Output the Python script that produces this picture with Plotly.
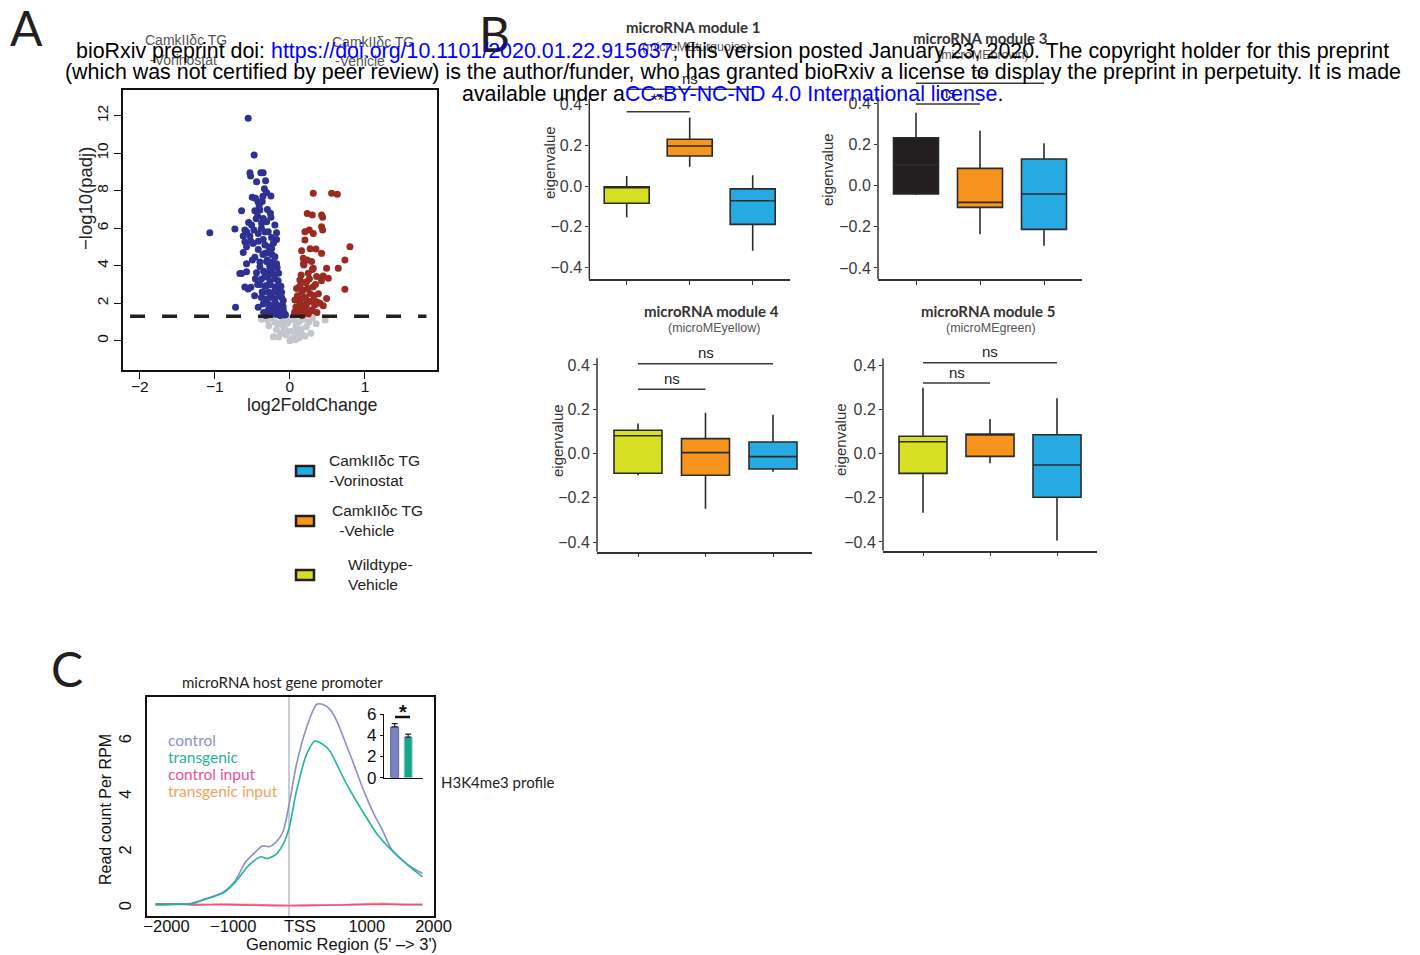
import plotly.graph_objects as go

W, H = 1420, 955
def px(x): return x / W
def py(y): return 1 - y / H

SANS = "Liberation Sans, Arial, sans-serif"
MYR = "Lato, Open Sans, sans-serif"

# ---------------- DATA ----------------
# Panel A volcano: (log2FoldChange, -log10(padj))
down_pts = [(-0.556,11.86),(-0.476,9.9),(-0.533,8.96),(-0.387,8.96),(-0.356,8.96),(-0.444,8.48),(-0.324,8.53),
            (-0.524,8.78),(-0.311,7.9),(-0.253,7.72),(-0.502,7.65),(-0.458,7.6),(-0.427,7.42),(-0.369,7.42),
            (-0.644,6.93),(-0.467,6.93),(-0.4,6.97),(-0.431,6.65),(-0.356,6.52),(-0.253,6.58),(-0.311,6.34),
            (-0.378,6.26),(-0.511,6.17),(-0.2,6.17),(-0.733,5.96),(-1.067,5.76),(-0.578,5.81),(-0.622,5.58),
            (-0.533,5.58),(-0.422,5.72),(-0.289,5.81),(-0.178,5.76),(-0.244,5.51),(-0.356,5.4),(-0.6,5.28),
            (-0.489,5.19),(-0.178,5.4),(-0.333,5.1),(-0.578,5.01),(-0.422,4.87),(-0.244,4.92),(-0.622,4.7),
            (-0.333,4.66),(-0.467,4.45),(-0.2,4.48),(-0.311,4.22),(-0.578,4.1),(-0.178,4.1),(-0.4,3.95),
            (-0.267,3.8),(-0.644,3.59),(-0.667,3.59),(-0.578,3.68),(-0.444,3.63),(-0.333,3.59),(-0.222,3.56),
            (-0.378,3.29),(-0.267,3.2),(-0.156,3.2),(-0.556,2.76),(-0.6,2.86),(-0.52,2.85),(-0.311,2.94),
            (-0.2,2.85),(-0.356,2.58),(-0.267,2.53),(-0.156,2.67),(-0.111,2.58),(-0.311,2.22),(-0.2,2.22),
            (-0.089,2.14),(-0.356,1.96),(-0.244,1.87),(-0.133,1.87),(-0.724,1.78),(-0.422,1.78),(-0.289,1.64),
            (-0.178,1.55),(-0.089,1.64),(-0.244,1.46),(-0.133,1.37),(-0.067,1.37),
            (-0.30,4.3),(-0.27,4.0),(-0.22,3.9),(-0.35,3.7),(-0.3,3.4),(-0.26,3.0),(-0.2,3.3),(-0.17,2.9),
            (-0.14,2.4),(-0.33,2.9),(-0.28,2.6),(-0.24,2.3),(-0.19,2.0),(-0.16,1.7),(-0.12,1.6),(-0.1,1.9),
            (-0.08,1.5),(-0.3,2.0),(-0.27,1.7),(-0.22,1.5),(-0.18,1.4),(-0.14,1.45),(-0.35,1.5),(-0.38,2.3),
            (-0.4,3.0),(-0.36,4.6),(-0.42,5.3),(-0.33,5.8),(-0.28,5.0),(-0.24,4.6),(-0.38,6.0),(-0.45,6.5),
            (-0.3,7.0),(-0.36,7.7),(-0.22,5.2),(-0.26,6.8),(-0.4,4.2),(-0.46,3.3),(-0.5,4.3),(-0.52,5.3),
            (-0.48,5.9),(-0.55,6.3),(-0.6,5.9),(-0.41,7.2),(-0.34,8.1),(-0.25,3.6),(-0.2,2.6),(-0.11,2.3),
            (-0.15,3.6),(-0.13,1.35),(-0.21,1.8),(-0.32,1.35),(-0.25,1.9),(-0.06,1.4),
            (-0.43,3.0),(-0.47,2.4),(-0.29,4.7),(-0.23,4.2),(-0.17,3.9),(-0.12,2.9),(-0.09,1.8),(-0.37,2.6)]
up_pts = [(0.311,7.86),(0.556,7.86),(0.631,7.81),(0.231,6.79),(0.298,6.7),(0.422,6.7),(0.436,6.58),(0.2,5.81),
          (0.258,5.9),(0.311,5.72),(0.422,6.08),(0.436,5.9),(0.2,5.37),(0.8,5.01),(0.156,4.8),(0.347,4.89),
          (0.422,4.66),(0.178,4.4),(0.289,4.22),(0.733,4.31),(0.187,4.04),(0.311,3.86),(0.489,3.86),(0.644,3.86),
          (0.244,3.6),(0.356,3.42),(0.444,3.45),(0.511,3.33),(0.133,3.24),(0.222,3.15),(0.311,2.88),(0.733,2.74),
          (0.089,2.79),(0.178,2.7),(0.267,2.52),(0.133,2.25),(0.489,2.25),(0.067,2.17),(0.222,2.17),(0.356,2.08),
          (0.111,1.82),(0.2,1.73),(0.444,1.86),(0.289,1.64),(0.067,1.55),(0.156,1.46),(0.244,1.42),
          (0.1,1.4),(0.12,1.7),(0.14,2.0),(0.18,1.5),(0.2,2.3),(0.22,1.9),(0.24,2.8),(0.16,2.6),(0.28,2.1),
          (0.3,1.6),(0.32,2.4),(0.26,3.3),(0.2,3.1),(0.15,3.5),(0.3,3.8),(0.23,4.3),(0.34,3.0),(0.38,2.5),
          (0.08,1.8),(0.13,2.9),(0.18,4.1),(0.27,4.9),(0.36,1.5),(0.42,3.2),(0.4,2.0),(0.06,1.45),(0.1,2.4),
          (0.16,1.35),(0.25,1.5),(0.33,1.9)]
ns_pts = [(-0.38,1.14),(-0.3,1.1),(-0.25,1.2),(-0.2,1.0),(-0.22,0.21),(-0.18,0.6),(-0.15,0.9),(-0.12,0.4),
          (-0.1,1.1),(-0.08,0.7),(-0.05,0.3),(-0.03,0.95),(0.0,0.0),(0.02,0.5),(0.04,0.15),(0.05,1.1),
          (0.08,0.8),(0.1,0.35),(0.12,1.0),(0.15,0.6),(0.18,1.15),(0.2,0.25),(0.22,0.75),(0.25,1.0),
          (0.28,0.4),(0.3,1.2),(0.35,0.9),(0.47,1.1),(-0.28,0.8),(-0.05,0.55),(0.07,0.05),(-0.15,0.2),
          (0.16,0.3),(0.12,0.15),(-0.1,0.85),(0.0,1.2),(0.1,0.6)]
padj_threshold = 1.3

# Panel B module eigengene boxes: groups = WT-Vehicle, TG-Vehicle, TG-Vorinostat
groups = ["Wildtype-Vehicle", "CamkIIδc TG-Vehicle", "CamkIIδc TG-Vorinostat"]
m1 = dict(q1=[-0.085, 0.148, -0.189], med=[-0.008, 0.197, -0.073], q3=[-0.004, 0.230, -0.014],
          lo=[-0.154, 0.095, -0.319], hi=[0.049, 0.338, 0.053])
m3 = dict(q1=[-0.041, -0.106, -0.213], med=[0.10, -0.082, -0.041], q3=[0.232, 0.083, 0.129],
          lo=[-0.046, -0.237, -0.292], hi=[0.353, 0.266, 0.205])
m4 = dict(q1=[-0.089, -0.098, -0.070], med=[0.080, 0.004, -0.014], q3=[0.105, 0.067, 0.052],
          lo=[-0.098, -0.249, -0.082], hi=[0.136, 0.184, 0.175])
m5 = dict(q1=[-0.090, -0.013, -0.198], med=[0.053, 0.085, -0.052], q3=[0.078, 0.088, 0.085],
          lo=[-0.268, -0.044, -0.394], hi=[0.298, 0.156, 0.250])
module_titles = ["microRNA module 1", "microRNA module 3", "microRNA module 4", "microRNA module 5"]
module_sub = ["(microMEturquoise)", "(microMEbrown)", "(microMEyellow)", "(microMEgreen)"]
# significance: (from group, to group, bar height, label)
m1_sig = [(0, 2, 0.476, "ns"), (0, 1, 0.366, "**")]
m3_sig = [(0, 2, 0.496, "ns"), (0, 1, 0.396, "ns")]
m4_sig = [(0, 2, 0.405, "ns"), (0, 1, 0.290, "ns")]
m5_sig = [(0, 2, 0.411, "ns"), (0, 1, 0.319, "ns")]

# Panel C H3K4me3 profile
ctrl_x = [-2000,-1700,-1460,-1310,-980,-800,-650,-500,-400,-300,-200,-90,0,110,260,415,520,620,720,820,975,1125,1280,1400,1530,1790,2000]
ctrl_y = [0.12,0.14,0.17,0.28,0.58,1.0,1.66,2.02,2.23,2.2,2.35,2.74,3.7,5.14,6.46,7.32,7.30,7.12,6.7,6.1,5.14,4.18,3.34,2.8,2.14,1.54,1.24]
tg_x = [-2000,-1700,-1460,-1310,-980,-800,-600,-425,-325,-200,-95,0,110,260,390,520,620,720,870,1075,1330,1585,1840,2000]
tg_y = [0.12,0.13,0.15,0.27,0.55,0.94,1.54,1.84,1.78,1.92,2.26,2.86,4.18,5.5,6.0,5.86,5.62,5.14,4.42,3.58,2.62,1.96,1.42,1.12]
inp_x = [-2000,-1700,-1400,-1000,-500,0,500,1000,1400,1700,2000]
cinp_y = [0.15,0.15,0.11,0.12,0.10,0.08,0.10,0.12,0.13,0.12,0.12]
tinp_y = [0.13,0.14,0.13,0.14,0.12,0.10,0.11,0.13,0.17,0.13,0.13]
inset_groups = ["control", "transgenic"]
inset_vals = [4.78, 3.83]
inset_err = [0.31, 0.28]

# ---------------- STYLE ----------------
C_YEL, C_ORA, C_BLU, C_BLK = "#d6df23", "#f7941d", "#27a9e1", "#231f20"
box_colors = [[C_YEL, C_ORA, C_BLU], [C_BLK, C_ORA, C_BLU], [C_YEL, C_ORA, C_BLU], [C_YEL, C_ORA, C_BLU]]

fig = go.Figure()
shapes, anns = [], []

def ann(text, x, y, size=14, color="#222", family=SANS, xanchor="center", yanchor="middle", angle=0):
    anns.append(dict(text=text, x=px(x), y=py(y), xref="paper", yref="paper", showarrow=False,
                     font=dict(size=size, color=color, family=family), xanchor=xanchor, yanchor=yanchor,
                     textangle=angle))

# ---------------- Panel A ----------------
for pts, col in [(ns_pts, "#c3c7cc"), (down_pts, "#2e3192"), (up_pts, "#9b2a22")]:
    fig.add_trace(go.Scatter(x=[p[0] for p in pts], y=[p[1] for p in pts], mode="markers",
                             marker=dict(size=7, color=col), xaxis="x", yaxis="y",
                             showlegend=False, hoverinfo="x+y"))
shapes.append(dict(type="line", xref="x", yref="y", x0=-2.13, x1=1.82, y0=padj_threshold, y1=padj_threshold,
                   line=dict(color="#231f20", width=3.5, dash="15px,17px"), layer="above"))

# legend of panel A
leg = [(471, C_BLU, ["CamkIIδc TG", "-Vorinostat"], 327),
       (521, C_ORA, ["CamkIIδc TG", " -Vehicle"], 330),
       (575, C_YEL, ["Wildtype-", "Vehicle"], 346)]
for yc, col, lines, tx in leg:
    shapes.append(dict(type="rect", xref="paper", yref="paper", x0=px(296), x1=px(314), y0=py(yc+5), y1=py(yc-5),
                       fillcolor=col, line=dict(color="#231f20", width=2.5)))
    ann(lines[0], tx, yc - 11, size=15.5, xanchor="left")
    ann(lines[1], tx + (3 if lines[1].startswith(" ") else 0), yc + 9, size=15.5, xanchor="left")

ann("A", 26, 27, size=48, color="#231f20", family=MYR)
ann("CamkIIδc TG", 186, 40, size=14, color="#555")
ann("-Vorinostat", 183, 60, size=14, color="#555")
ann("CamkIIδc TG", 373, 42, size=14, color="#555")
ann("-Vehicle", 360, 61, size=14, color="#555")
ann("−log10(padj)", 85, 199, size=18.5, angle=-90)
ann("log2FoldChange", 312, 405, size=17.8)

# ---------------- Panel B ----------------
B_lay = [dict(xl=589.3, xr=790, c0=626.7, dx=63, yb=279.3, yt=60, y0=186, dy=203, bw=45, yl=550, ylc=163,
              tx=693, ty=27, sy=47),
         dict(xl=878, xr=1082, c0=916, dx=64, yb=279.3, yt=60, y0=185.5, dy=206, bw=45, yl=828, ylc=170,
              tx=980, ty=38, sy=55),
         dict(xl=597, xr=812, c0=638, dx=67.5, yb=551.7, yt=340, y0=453.5, dy=221.5, bw=48, yl=557, ylc=441,
              tx=711, ty=311, sy=328),
         dict(xl=883, xr=1097, c0=923, dx=67, yb=550.7, yt=340, y0=453.5, dy=221, bw=48, yl=840, ylc=440,
              tx=988, ty=311, sy=328)]
mods = [m1, m3, m4, m5]
sigs = [m1_sig, m3_sig, m4_sig, m5_sig]
layout_axes = {}
for k, (L, m, sg) in enumerate(zip(B_lay, mods, sigs)):
    ax = k + 2
    xr = [(L["xl"] - L["c0"]) / L["dx"], (L["xr"] - L["c0"]) / L["dx"]]
    yr = [(L["y0"] - L["yb"]) / L["dy"], (L["y0"] - L["yt"]) / L["dy"]]
    for i in range(3):
        fig.add_trace(go.Box(x=[i], q1=[m["q1"][i]], median=[m["med"][i]], q3=[m["q3"][i]],
                             lowerfence=[m["lo"][i]], upperfence=[m["hi"][i]],
                             fillcolor=box_colors[k][i], line=dict(color="#2b2b2b", width=1.6),
                             width=L["bw"] / L["dx"], whiskerwidth=0, boxpoints=False,
                             xaxis=f"x{ax}", yaxis=f"y{ax}", showlegend=False, name=groups[i]))
    layout_axes[f"xaxis{ax}"] = dict(domain=[px(L["xl"]), px(L["xr"])], range=xr, anchor=f"y{ax}",
                                     tickvals=[0, 1, 2], ticktext=["", "", ""], ticks="outside", ticklen=4,
                                     tickcolor="#333", showline=True, linecolor="#333", linewidth=1.5,
                                     showgrid=False, zeroline=False, fixedrange=True, automargin=False)
    layout_axes[f"yaxis{ax}"] = dict(domain=[py(L["yb"]), py(L["yt"])], range=yr, anchor=f"x{ax}",
                                     tickvals=[-0.4, -0.2, 0, 0.2, 0.4],
                                     ticktext=["−0.4", "−0.2", "0.0", "0.2", "0.4"],
                                     ticks="outside", ticklen=3, tickcolor="#333",
                                     tickfont=dict(size=16, color="#3a3a3a", family=SANS),
                                     showline=False, showgrid=False, zeroline=False, automargin=False)
    shapes.append(dict(type="line", xref="paper", yref=f"y{ax}", x0=px(L["xl"]), x1=px(L["xl"]),
                       y0=yr[0], y1=0.43, line=dict(color="#333", width=1.5)))
    for (g0, g1, hgt, lab) in sg:
        shapes.append(dict(type="line", xref=f"x{ax}", yref=f"y{ax}", x0=g0, x1=g1, y0=hgt, y1=hgt,
                           line=dict(color="#3a3a3a", width=1.5)))
        xc = L["c0"] + (g0 + g1) / 2 * L["dx"]
        yc = L["y0"] - hgt * L["dy"]
        ann(lab, xc, yc - 11, size=15 if lab == "ns" else 17, color="#222")
    ann("eigenvalue", L["yl"], L["ylc"], size=15, color="#333", angle=-90)
    ann("<b>" + module_titles[k] + "</b>", L["tx"], L["ty"], size=15, color="#333", family=MYR)
    ann(module_sub[k], L["tx"] + 3, L["sy"], size=12.5, color="#555")

ann("B", 494, 33, size=48, color="#231f20", family=MYR)

# ---------------- Panel C ----------------
for xs, ys, col in [(inp_x, tinp_y, "#f2a15c"), (inp_x, cinp_y, "#ec4f98"),
                    (ctrl_x, ctrl_y, "#8b8fcb"), (tg_x, tg_y, "#1fb39b")]:
    fig.add_trace(go.Scatter(x=xs, y=ys, mode="lines", line=dict(color=col, width=1.6, shape="spline", smoothing=0.7),
                             xaxis="x6", yaxis="y6", showlegend=False))
shapes.append(dict(type="line", xref="x6", yref="y6 domain", x0=0, x1=0, y0=0, y1=1,
                   line=dict(color="#b8bcc2", width=1.5), layer="below"))
C_ppu = 66.75 / 1000
layout_axes["xaxis6"] = dict(domain=[px(147), px(434)], range=[(147 - 289) / C_ppu, (434 - 289) / C_ppu],
                             anchor="y6", tickvals=[-2000, -1000, 0, 1000, 2000],
                             ticktext=["−2000", "−1000", "TSS", "1000", "2000"], ticks="", ticklabelshift=11,
                             ticklabelstandoff=-6,
                             tickfont=dict(size=16.5, color="#111", family=SANS), showline=True, mirror=True,
                             linecolor="#111", linewidth=1.5, showgrid=False, zeroline=False, automargin=False)
layout_axes["yaxis6"] = dict(domain=[py(916), py(697)], range=[(908 - 916) / 27.83, (908 - 697) / 27.83],
                             anchor="x6", tickvals=[0, 2, 4, 6], tickangle=-90, ticks="", ticklabelstandoff=8,
                             tickfont=dict(size=16.5, color="#111", family=SANS), showline=True, mirror=True,
                             linecolor="#111", linewidth=1.5, showgrid=False, zeroline=False, automargin=False)
# inset
fig.add_trace(go.Bar(x=[0, 1], y=inset_vals, width=0.59, marker=dict(color=["#7b83c2", "#12a68b"],
                     line=dict(color=["#5b64a8", "#a9c6c0"], width=1)),
                     error_y=dict(type="data", array=inset_err, arrayminus=[0, 0], symmetric=False,
                                  color="#222", thickness=1.2, width=3),
                     xaxis="x7", yaxis="y7", showlegend=False, name="H3K4me3"))
layout_axes["xaxis7"] = dict(domain=[px(384), px(423)], range=[-0.79, 2.1], anchor="y7", showticklabels=False,
                             ticks="", showline=True, linecolor="#111", linewidth=1.2, showgrid=False,
                             zeroline=False, automargin=False)
layout_axes["yaxis7"] = dict(domain=[py(777.7), py(714)], range=[0, 6], anchor="x7", tickvals=[0, 2, 4, 6],
                             ticks="outside", ticklen=3, tickcolor="#111",
                             tickfont=dict(size=17, color="#111", family=SANS), showline=True,
                             linecolor="#111", linewidth=1.2, showgrid=False, zeroline=False, automargin=False)
shapes.append(dict(type="line", xref="paper", yref="paper", x0=px(395), x1=px(410), y0=py(717), y1=py(717),
                   line=dict(color="#111", width=2.5)))
ann("<b>*</b>", 403, 712, size=20, color="#111")

ann("C", 67, 668, size=48, color="#231f20", family=MYR)
ann("microRNA host gene promoter", 282, 682, size=15, color="#222", family=MYR)
ann("Read count Per RPM", 105, 810, size=16, color="#111", angle=-90)
ann("Genomic Region (5' –> 3')", 341, 944, size=16.5, color="#111")
ann("H3K4me3 profile", 439, 782, size=15, color="#222", family=MYR, xanchor="left")
for t, col, yy in [("control", "#8b8fcb", 740), ("transgenic", "#1fb39b", 757),
                   ("control input", "#ec4f98", 774), ("transgenic input", "#f2a15c", 791)]:
    ann(t, 166, yy, size=15.5, color=col, family=MYR, xanchor="left")

# ---------------- bioRxiv header overlay ----------------
BL = "#0000ff"
ann(f"bioRxiv preprint doi: <span style='color:{BL}'>https://doi.org/10.1101/2020.01.22.915637</span>; "
    "this version posted January 23, 2020. The copyright holder for this preprint", 732.5, 51, size=21.4, color="#000")
ann("(which was not certified by peer review) is the author/funder, who has granted bioRxiv a license to "
    "display the preprint in perpetuity. It is made", 732.5, 72, size=21.4, color="#000")
ann(f"available under a<span style='color:{BL}'>CC-BY-NC-ND 4.0 International license</span>.", 732.5, 94,
    size=21.4, color="#000")

fig.update_layout(
    template="none",
    width=W, height=H, margin=dict(l=0, r=0, t=0, b=0, pad=0, autoexpand=False),
    paper_bgcolor="white", plot_bgcolor="rgba(0,0,0,0)",
    showlegend=False, shapes=shapes, annotations=anns, boxmode="overlay",
    xaxis=dict(domain=[px(123.3), px(436.7)], range=[-2.22, 1.956], anchor="y", tickvals=[-2, -1, 0, 1],
               ticktext=["−2", "−1", "0", "1"], ticks="outside", ticklen=7, tickcolor="#111",
               ticklabelstandoff=-6,
               tickfont=dict(size=15.5, color="#111", family=SANS), showline=True, mirror=True,
               linecolor="#111", linewidth=2, showgrid=False, zeroline=False, automargin=False),
    yaxis=dict(domain=[py(370), py(90)], range=[-1.56, 13.37], anchor="x", tickvals=list(range(0, 13, 2)),
               tickangle=-90, ticks="outside", ticklen=7, tickcolor="#111",
               tickfont=dict(size=15.5, color="#111", family=SANS), showline=True, mirror=True,
               linecolor="#111", linewidth=2, showgrid=False, zeroline=False, automargin=False),
    **layout_axes,
)
post = ("var de=document.documentElement, b=document.body;"
        "de.style.margin='0';de.style.padding='0';de.style.overflow='hidden';"
        "b.style.margin='0';b.style.padding='0';b.style.overflow='hidden';"
        "var d=document.getElementById('{plot_id}');"
        "d.style.position='fixed';d.style.left='0px';d.style.top='0px';")
fig.write_html("out.html", config={"displayModeBar": False}, post_script=post)
